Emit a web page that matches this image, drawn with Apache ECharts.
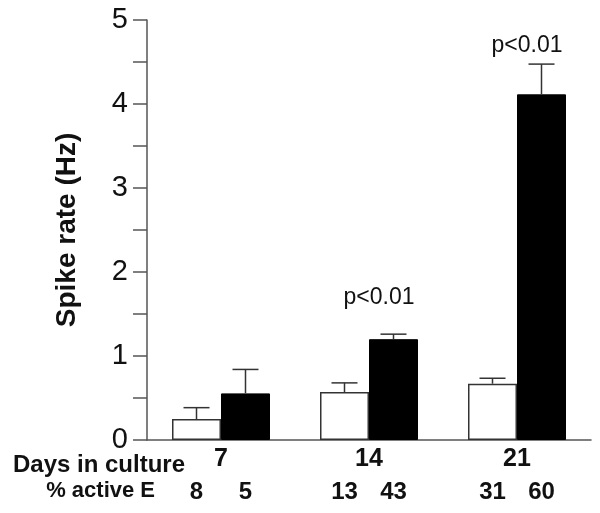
<!DOCTYPE html>
<html><head><meta charset="utf-8">
<script src="https://cdn.jsdelivr.net/npm/echarts@6/dist/echarts.min.js"></script>
<style>html,body{margin:0;padding:0;background:#fff}#chart{width:600px;height:513px}</style>
</head><body><div id="chart"></div>
<script>
const days = ['7', '14', '21'];
const controlRate = [0.25, 0.57, 0.67];
const controlErr = [0.135, 0.11, 0.065];
const treatedRate = [0.555, 1.20, 4.115];
const treatedErr = [0.285, 0.06, 0.36];
const controlActive = [8, 13, 31];
const treatedActive = [5, 43, 60];
const pDay = ['14', '21'];
const pY = [1.69, 4.70];
const pText = ['p<0.01', 'p<0.01'];
const rowTitles = ['Days in culture', '% active E'];

const FONT = '"Liberation Sans", Arial, Helvetica, sans-serif';
const BAR_W = 49;
const AXIS_COLOR = '#555';

function errSeries(rates, errs, off) {
  return {
    type: 'custom',
    z: 5,
    encode: { x: 0, y: 1 },
    data: rates.map((v, i) => [i, v, errs[i]]),
    renderItem: function (params, api) {
      const x = api.value(0), v = api.value(1), e = api.value(2);
      const p0 = api.coord([x, v]);
      const p1 = api.coord([x, v + e]);
      const cx = p0[0] + off;
      const st = { stroke: '#333', lineWidth: 1.5 };
      return {
        type: 'group',
        children: [
          { type: 'line', shape: { x1: cx, y1: p0[1], x2: cx, y2: p1[1] }, style: st },
          { type: 'line', shape: { x1: cx - 13, y1: p1[1], x2: cx + 13, y2: p1[1] }, style: st }
        ]
      };
    }
  };
}

const chart = echarts.init(document.getElementById('chart'));
chart.setOption({
  animation: false,
  backgroundColor: '#fff',
  grid: { left: 147, right: 9, top: 20, bottom: 73, containLabel: false },
  xAxis: {
    type: 'category',
    data: days,
    axisLine: { lineStyle: { color: AXIS_COLOR, width: 1.5 } },
    axisTick: { show: false },
    axisLabel: { color: '#111', fontFamily: FONT, fontWeight: 'bold', fontSize: 25, margin: 7 }
  },
  yAxis: {
    type: 'value',
    min: 0, max: 5, interval: 1,
    name: 'Spike rate (Hz)',
    nameLocation: 'middle',
    nameGap: 66,
    nameTextStyle: { color: '#111', fontFamily: FONT, fontWeight: 'bold', fontSize: 28 },
    axisLine: { show: true, lineStyle: { color: AXIS_COLOR, width: 1.5 } },
    axisTick: { show: true, length: 14, lineStyle: { color: AXIS_COLOR, width: 1.5 } },
    minorTick: { show: true, splitNumber: 2, length: 14, lineStyle: { color: AXIS_COLOR, width: 1.5 } },
    splitLine: { show: false },
    minorSplitLine: { show: false },
    axisLabel: { color: '#111', fontFamily: FONT, fontSize: 29, margin: 19 }
  },
  series: [
    {
      type: 'bar', name: 'control', data: controlRate, barWidth: BAR_W, barGap: '0%',
      itemStyle: { color: '#fff', borderColor: '#333', borderWidth: 1.5 },
      label: {
        show: true, position: 'bottom', distance: 40,
        formatter: p => String(controlActive[p.dataIndex]),
        color: '#111', fontFamily: FONT, fontWeight: 'bold', fontSize: 24
      }
    },
    {
      type: 'bar', name: 'treated', data: treatedRate, barWidth: BAR_W, barGap: '0%',
      itemStyle: { color: '#000', borderColor: '#000', borderWidth: 1 },
      label: {
        show: true, position: 'bottom', distance: 40,
        formatter: p => String(treatedActive[p.dataIndex]),
        color: '#111', fontFamily: FONT, fontWeight: 'bold', fontSize: 24
      }
    },
    errSeries(controlRate, controlErr, -BAR_W / 2),
    errSeries(treatedRate, treatedErr, BAR_W / 2),
    {
      type: 'scatter',
      symbolSize: 0,
      z: 6,
      itemStyle: { opacity: 1 },
      data: pDay.map((d, i) => [days.indexOf(d), pY[i]]),
      label: {
        show: true, position: 'inside', offset: [10, 0],
        formatter: p => pText[p.dataIndex],
        color: '#111', fontFamily: FONT, fontSize: 23
      }
    }
  ],
  graphic: [
    { type: 'text', right: 600 - 185, top: 453,
      style: { text: rowTitles[0], fill: '#111', font: 'bold 24px ' + FONT, textAlign: 'right' } },
    { type: 'text', right: 600 - 155, top: 480,
      style: { text: rowTitles[1], fill: '#111', font: 'bold 22px ' + FONT, textAlign: 'right' } }
  ]
});
</script>
</body></html>
